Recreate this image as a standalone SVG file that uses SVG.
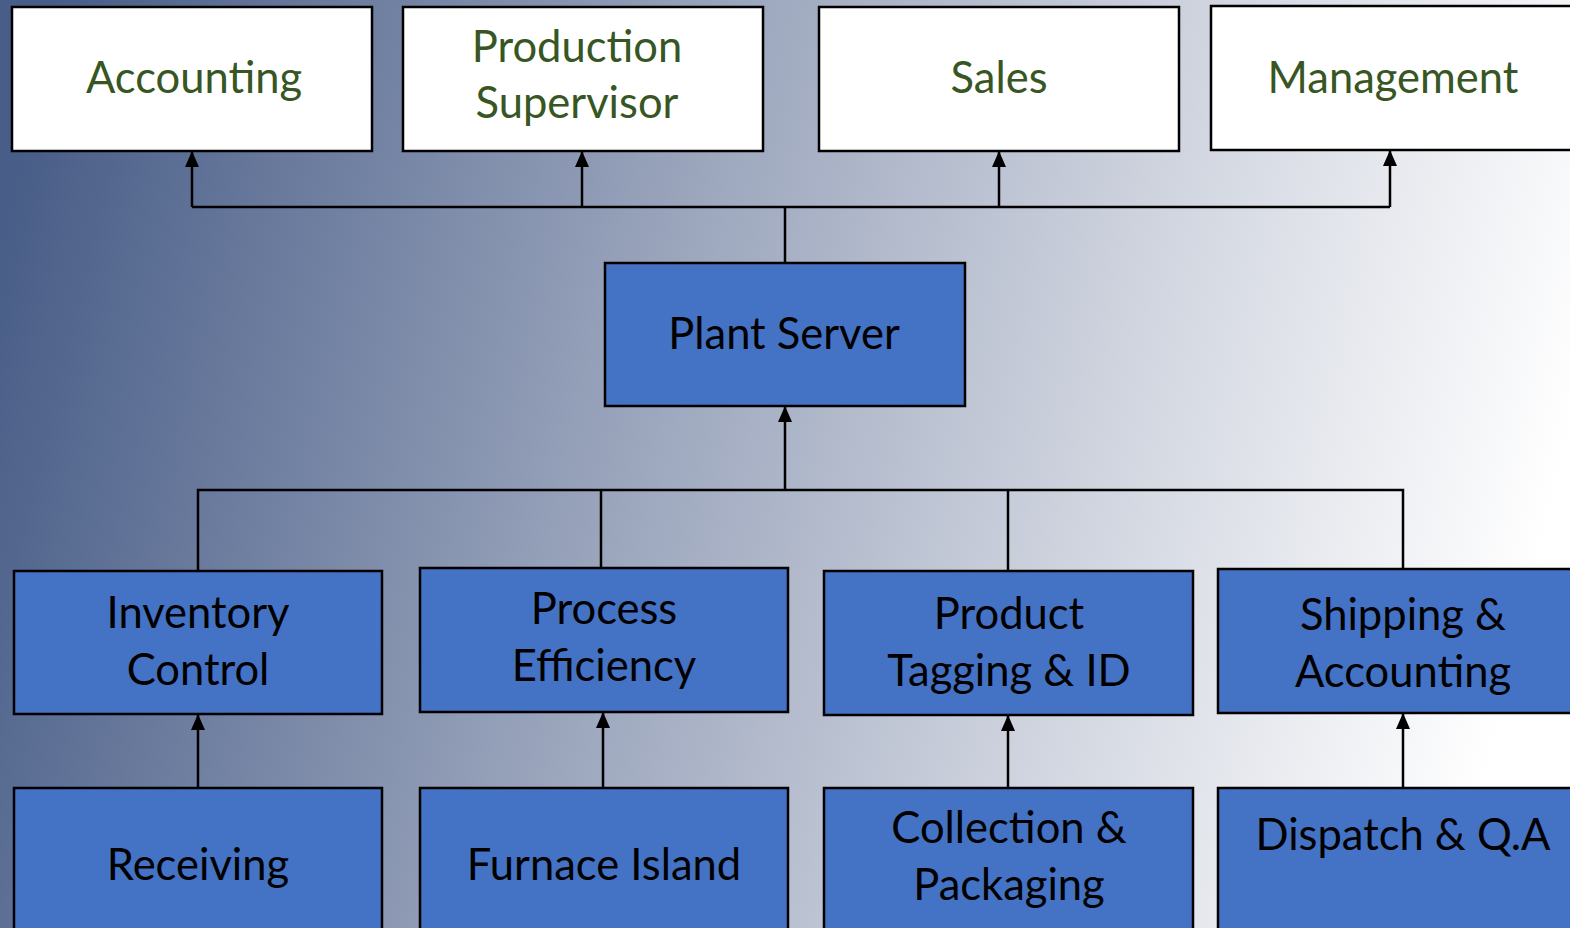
<svg xmlns="http://www.w3.org/2000/svg" width="1570" height="928" viewBox="0 0 1570 928">
<defs>
<linearGradient id="bg" gradientUnits="userSpaceOnUse" x1="0" y1="230" x2="1530" y2="600">
<stop offset="0" stop-color="#485d87"/>
<stop offset="0.4" stop-color="#97a2ba"/>
<stop offset="0.75" stop-color="#d6dae3"/>
<stop offset="1" stop-color="#ffffff"/>
</linearGradient>
<marker id="arr" viewBox="0 0 16 16" refX="15" refY="8" markerWidth="16" markerHeight="16" markerUnits="userSpaceOnUse" orient="auto">
<path d="M0,1 L16,8 L0,15 z" fill="#000"/>
</marker>
</defs>
<style>
.w{fill:#fff;stroke:#000;stroke-width:2.5}
.b{fill:#4472c4;stroke:#000;stroke-width:2.5}
.tg{font-family:Lato,"Liberation Sans",sans-serif;font-size:43.5px;fill:#375623;text-anchor:middle}
.tb{font-family:Lato,"Liberation Sans",sans-serif;font-size:43.5px;fill:#000;text-anchor:middle}
.c{fill:none;stroke:#000;stroke-width:2.5}
</style>
<rect width="1570" height="928" fill="url(#bg)"/>
<g id="connectors">
<polyline class="c" points="785,263 785,207"/>
<polyline class="c" points="192,207 1390,207"/>
<line class="c" x1="192" y1="207" x2="192" y2="152" marker-end="url(#arr)"/>
<line class="c" x1="582" y1="207" x2="582" y2="152" marker-end="url(#arr)"/>
<line class="c" x1="999" y1="207" x2="999" y2="152" marker-end="url(#arr)"/>
<line class="c" x1="1390" y1="207" x2="1390" y2="151" marker-end="url(#arr)"/>
<line class="c" x1="785" y1="490" x2="785" y2="407" marker-end="url(#arr)"/>
<polyline class="c" points="198,571 198,490 1403,490 1403,569"/>
<line class="c" x1="601" y1="490" x2="601" y2="568"/>
<line class="c" x1="1008" y1="490" x2="1008" y2="571"/>
<line class="c" x1="198" y1="788" x2="198" y2="715" marker-end="url(#arr)"/>
<line class="c" x1="603" y1="788" x2="603" y2="713" marker-end="url(#arr)"/>
<line class="c" x1="1008" y1="788" x2="1008" y2="716" marker-end="url(#arr)"/>
<line class="c" x1="1403" y1="788" x2="1403" y2="714" marker-end="url(#arr)"/>
</g>
<g id="accounting"><rect class="w" x="12" y="7" width="360" height="144"/><text class="tg" x="194" y="93">Accounting</text></g>
<g id="production-supervisor"><rect class="w" x="403" y="7" width="360" height="144"/><text class="tg" x="577" y="62">Production</text><text class="tg" x="577" y="118">Supervisor</text></g>
<g id="sales"><rect class="w" x="819" y="7" width="360" height="144"/><text class="tg" x="999" y="93">Sales</text></g>
<g id="management"><rect class="w" x="1211" y="6" width="362" height="144"/><text class="tg" x="1393" y="93">Management</text></g>
<g id="plant-server"><rect class="b" x="605" y="263" width="360" height="143"/><text class="tb" x="784" y="349">Plant Server</text></g>
<g id="inventory-control"><rect class="b" x="14" y="571" width="368" height="143"/><text class="tb" x="198" y="628">Inventory</text><text class="tb" x="198" y="685">Control</text></g>
<g id="process-efficiency"><rect class="b" x="420" y="568" width="368" height="144"/><text class="tb" x="604" y="624">Process</text><text class="tb" x="604" y="681">Efficiency</text></g>
<g id="product-tagging"><rect class="b" x="824" y="571" width="369" height="144"/><text class="tb" x="1009" y="629">Product</text><text class="tb" x="1009" y="686">Tagging &amp; ID</text></g>
<g id="shipping-accounting"><rect class="b" x="1218" y="569" width="355" height="144"/><text class="tb" x="1403" y="630">Shipping &amp;</text><text class="tb" x="1403" y="687">Accounting</text></g>
<g id="receiving"><rect class="b" x="14" y="788" width="368" height="150"/><text class="tb" x="198" y="880">Receiving</text></g>
<g id="furnace-island"><rect class="b" x="420" y="788" width="368" height="150"/><text class="tb" x="604" y="880">Furnace Island</text></g>
<g id="collection-packaging"><rect class="b" x="824" y="788" width="369" height="150"/><text class="tb" x="1009" y="843">Collection &amp;</text><text class="tb" x="1009" y="900">Packaging</text></g>
<g id="dispatch-qa"><rect class="b" x="1218" y="788" width="355" height="150"/><text class="tb" x="1403" y="850">Dispatch &amp; Q.A</text></g>
</svg>
